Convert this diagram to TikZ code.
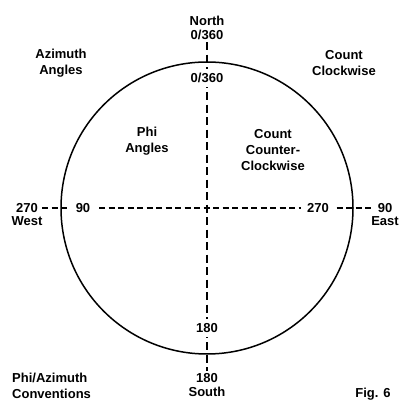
\documentclass[tikz,border=0pt]{standalone}
\usepackage{fontspec}
\setmainfont{Liberation Sans}
\usetikzlibrary{positioning}

\begin{document}
\begin{tikzpicture}[x=1pt, y=1pt, node distance=0pt,
  every node/.style={font=\fontsize{13}{16}\selectfont\bfseries, inner sep=2pt},
  outlabel/.style={inner xsep=4pt},
  inlabel/.style={fill=white, inner sep=4pt, inner xsep=6pt},
  haxis/.style={dash pattern=on 6pt off 3.5pt, line width=1.8pt},
  vaxis/.style={dash pattern=on 8pt off 4.5pt, line width=1.8pt},
  rim/.style={line width=1.5pt}]
\useasboundingbox[fill=white] (0,0) rectangle (408,418);

% outer ring
\coordinate (c) at (207,210);
\draw[rim] (c) circle (146);

% compass points outside the ring
\node (north) at (207,397) {North};
\node[below=of north] (n0) {0/360};
\node[outlabel] (w270) at (27,210) {270};
\node[below=of w270] (west) {West};
\node[outlabel] (e90) at (385,210) {90};
\node[below=of e90] (east) {East};
\node (s180) at (207,40) {180};
\node[below=of s180] (south) {South};

% axes
\draw[vaxis] (n0) -- (s180);
\draw[haxis] (w270) -- (e90);

% phi values inside the ring
\node[inlabel] (in0) at (207,340) {0/360};
\node[inlabel] (w90) at (83,210) {90};
\node[inlabel] (e270) at (318,210) {270};
\node[inlabel] (in180) at (207,90) {180};

% captions
\node[align=center] (azi) at (61,355) {Azimuth\\Angles};
\node[align=center] (cw) at (344,355) {Count\\Clockwise};
\node[align=center] (phi) at (147,277) {Phi\\Angles};
\node[align=center] (ccw) at (273,268) {Count\\Counter-\\Clockwise};
\node[align=left, anchor=west] (conv) at (10,32) {Phi/Azimuth\\Conventions};
\node (fig) at (373,24) {Fig. 6};
\end{tikzpicture}
\end{document}
